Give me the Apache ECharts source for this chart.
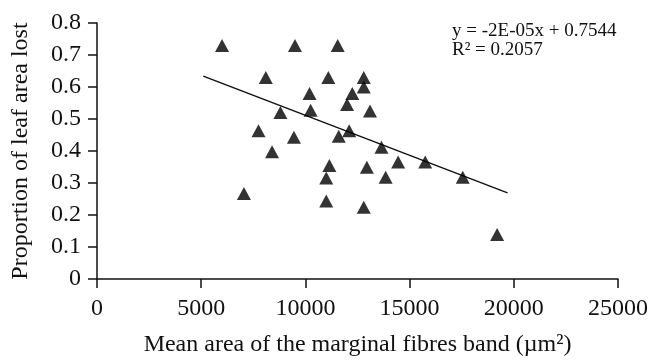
<!DOCTYPE html>
<html>
<head>
<meta charset="utf-8">
<script src="https://cdn.jsdelivr.net/npm/echarts@6/dist/echarts.min.js"></script>
<style>
  html, body { margin: 0; padding: 0; background: #fff; }
  #chart { width: 651px; height: 362px; }
</style>
</head>
<body>
<div id="chart"></div>
<script>
// values
const fibreArea = [6000, 9500, 11550, 8100, 11100, 12800, 12800, 10200, 12250, 12000,
  8800, 10250, 13100, 7750, 12100, 9450, 11600, 13650, 8400, 14450,
  15750, 11150, 12950, 11000, 13850, 17550, 7050, 11000, 12800, 19200]
const leafLost = [0.73, 0.73, 0.73, 0.63, 0.63, 0.63, 0.60, 0.58, 0.58, 0.545,
  0.52, 0.527, 0.525, 0.463, 0.463, 0.443, 0.446, 0.412, 0.398, 0.366,
  0.366, 0.355, 0.349, 0.316, 0.318, 0.318, 0.267, 0.244, 0.224, 0.139]
const trendX = [5100, 19700]
const trendY = [0.634, 0.269]
const equationText = ['y = -2E-05x + 0.7544', 'R\u00b2 = 0.2057']

const serif = 'Liberation Serif'
const chart = echarts.init(document.getElementById('chart'))
const option = {
  animation: false,
  grid: {
    left: 97,
    right: 33,
    top: 23,
    bottom: 79,
  },
  graphic: [{
    type: 'text',
    left: 452,
    top: 22,
    style: {
      text: equationText.join('\n'),
      font: '19px "Liberation Serif"',
      fill: '#111',
      lineHeight: 19,
    },
  }],
  xAxis: {
    type: 'value',
    min: 0,
    max: 25000,
    interval: 5000,
    name: 'Mean area of the marginal fibres band (\u00b5m\u00b2)',
    nameLocation: 'middle',
    nameGap: 54,
    nameTextStyle: { fontFamily: serif, fontSize: 24, color: '#111' },
    axisLine: { lineStyle: { color: '#111', width: 1.5 } },
    axisTick: { show: true, length: 9, lineStyle: { color: '#111', width: 1.5 } },
    axisLabel: { fontFamily: serif, fontSize: 24, color: '#111', margin: 18, formatter: (v) => String(v) },
    splitLine: { show: false },
  },
  yAxis: {
    type: 'value',
    min: 0,
    max: 0.8,
    interval: 0.1,
    name: 'Proportion of leaf area lost',
    nameLocation: 'middle',
    nameGap: 64,
    nameTextStyle: { fontFamily: serif, fontSize: 24, color: '#111' },
    axisLine: { show: true, lineStyle: { color: '#111', width: 1.5 } },
    axisTick: { show: true, length: 9, lineStyle: { color: '#111', width: 1.5 } },
    axisLabel: { fontFamily: serif, fontSize: 24, color: '#111', margin: 16 },
    splitLine: { show: false },
  },
  series: [
    {
      type: 'scatter',
      symbol: 'triangle',
      symbolSize: [14, 13],
      itemStyle: { color: '#000' },
      data: fibreArea.map((x, i) => [x, leafLost[i]]),
      z: 3,
    },
    {
      type: 'line',
      symbol: 'none',
      lineStyle: { color: '#111', width: 1.5 },
      data: trendX.map((x, i) => [x, trendY[i]]),
      z: 2,
    },
  ],
}
chart.setOption(option)
</script>
</body>
</html>
